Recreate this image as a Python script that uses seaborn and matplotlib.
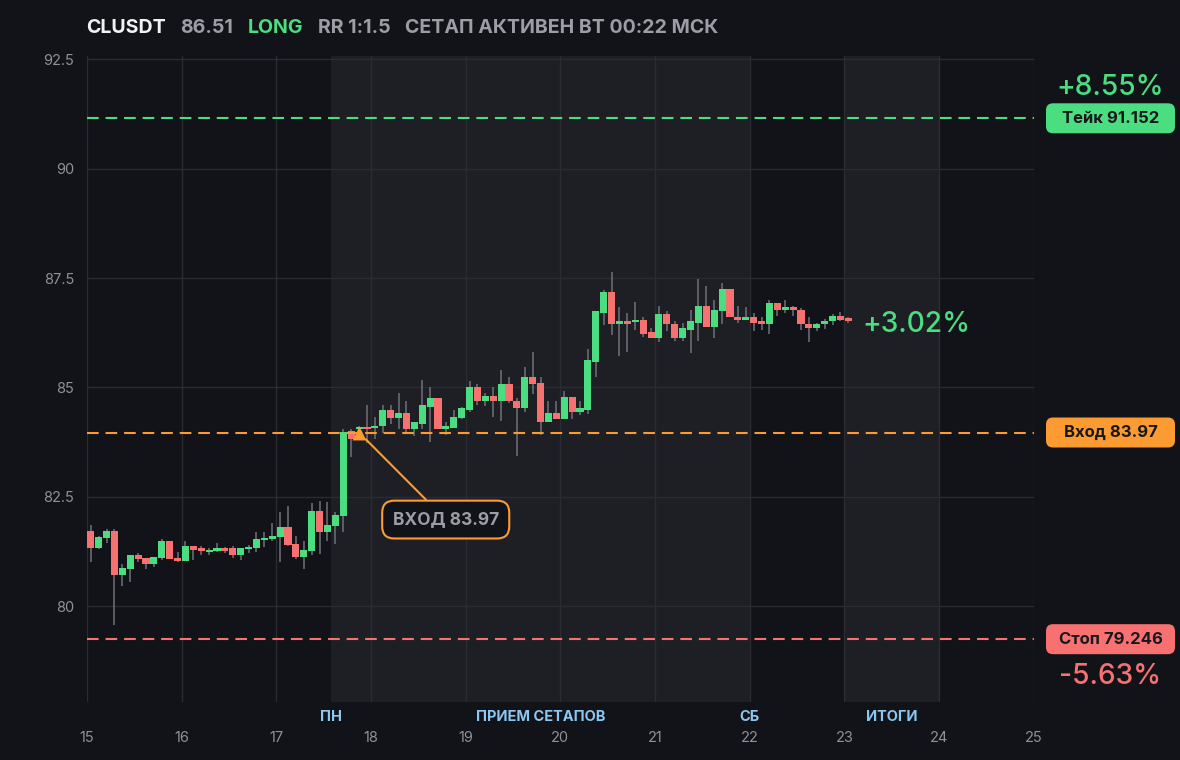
import numpy as np
import pandas as pd
import matplotlib
matplotlib.use("Agg")
import matplotlib.pyplot as plt
import seaborn as sns
from matplotlib.patches import FancyBboxPatch
from matplotlib.transforms import IdentityTransform

# ---------------- data ----------------
symbol = "CLUSDT"
side = "LONG"
status_text = "СЕТАП АКТИВЕН ВТ 00:22 МСК"
take_price = 91.152
entry_price = 83.97
stop_price = 79.246
first_day = 15
bar_hours = 2
entry_bar = 34

opens = [81.73, 81.32, 81.57, 81.73, 80.72, 80.86, 81.18, 81.11, 80.97, 81.11,
         81.48, 81.11, 81.04, 81.38, 81.32, 81.25, 81.27, 81.32, 81.32, 81.16,
         81.32, 81.34, 81.52, 81.54, 81.59, 81.82, 81.43, 81.13, 81.27, 82.18,
         81.70, 81.84, 82.07, 84.01, 84.06, 84.10, 84.08, 84.11, 84.49, 84.31,
         84.42, 84.04, 84.17, 84.56, 84.75, 84.04, 84.08, 84.31, 84.49, 85.00,
         84.68, 84.81, 84.70, 85.07, 84.70, 84.52, 85.23, 85.11, 84.20, 84.42,
         84.29, 84.79, 84.45, 84.49, 85.59, 86.71, 87.19, 86.44, 86.51, 86.49,
         86.55, 86.26, 86.12, 86.67, 86.46, 86.14, 86.32, 86.48, 86.87, 86.39,
         86.74, 87.24, 86.62, 86.55, 86.62, 86.51, 86.44, 86.94, 86.76, 86.83,
         86.78, 86.46, 86.37, 86.44, 86.51, 86.64, 86.58]
highs = [81.86, 81.61, 81.77, 81.77, 80.97, 81.18, 81.22, 81.11, 81.13, 81.54,
         81.48, 81.25, 81.48, 81.38, 81.38, 81.34, 81.45, 81.36, 81.38, 81.34,
         81.41, 81.70, 81.70, 81.91, 82.16, 82.30, 81.61, 81.50, 82.37, 82.41,
         82.39, 82.16, 84.06, 84.06, 84.13, 84.59, 84.33, 84.61, 84.61, 84.88,
         84.68, 84.22, 85.16, 85.00, 84.75, 84.22, 84.49, 84.55, 85.14, 85.07,
         84.88, 85.02, 85.39, 85.23, 84.77, 85.46, 85.82, 85.25, 84.68, 84.70,
         84.93, 84.79, 84.68, 85.87, 86.74, 87.22, 87.63, 86.83, 86.71, 86.96,
         86.60, 86.35, 86.87, 86.74, 86.53, 86.48, 86.76, 87.47, 87.31, 86.99,
         87.38, 87.24, 86.87, 86.83, 86.71, 86.60, 86.99, 86.94, 86.99, 86.87,
         86.81, 86.60, 86.48, 86.57, 86.69, 86.73, 86.62]
lows = [81.02, 81.30, 81.45, 79.58, 80.47, 80.56, 81.02, 80.86, 80.90, 81.06,
        81.09, 81.02, 81.04, 81.06, 81.18, 81.16, 81.25, 81.22, 81.11, 81.06,
        81.22, 81.25, 81.36, 81.50, 81.02, 81.38, 81.09, 80.86, 81.16, 81.20,
        81.50, 81.43, 81.70, 83.40, 83.79, 83.72, 83.83, 83.97, 84.17, 84.04,
        83.95, 83.88, 84.04, 83.76, 84.04, 83.92, 84.08, 84.29, 84.45, 84.59,
        84.57, 84.33, 84.24, 84.65, 83.44, 84.45, 84.86, 83.92, 84.20, 84.27,
        84.29, 84.27, 84.38, 84.40, 85.25, 86.42, 86.21, 85.71, 85.82, 86.32,
        86.16, 86.12, 86.03, 86.30, 86.07, 86.07, 85.78, 86.07, 86.39, 86.14,
        86.44, 86.60, 86.48, 86.55, 86.30, 86.32, 86.23, 86.64, 86.71, 86.64,
        86.32, 86.05, 86.30, 86.34, 86.42, 86.51, 86.48]
closes = [81.32, 81.59, 81.73, 80.72, 80.88, 81.18, 81.09, 80.97, 81.13, 81.48,
          81.09, 81.04, 81.38, 81.29, 81.27, 81.29, 81.32, 81.27, 81.16, 81.34,
          81.36, 81.54, 81.57, 81.61, 81.82, 81.41, 81.13, 81.29, 82.18, 81.70,
          81.86, 82.09, 83.98, 83.83, 84.10, 84.06, 84.13, 84.49, 84.31, 84.42,
          84.04, 84.20, 84.59, 84.75, 84.04, 84.11, 84.33, 84.52, 85.00, 84.68,
          84.81, 84.70, 85.07, 84.68, 84.52, 85.23, 85.09, 84.20, 84.42, 84.29,
          84.79, 84.45, 84.52, 85.62, 86.74, 87.19, 86.44, 86.51, 86.46, 86.55,
          86.23, 86.12, 86.67, 86.44, 86.14, 86.35, 86.51, 86.87, 86.39, 86.76,
          87.24, 86.60, 86.55, 86.62, 86.48, 86.44, 86.94, 86.76, 86.83, 86.76,
          86.44, 86.37, 86.46, 86.53, 86.64, 86.55, 86.51]

x_ticks = list(range(15, 26))
y_ticks = [80, 82.5, 85, 87.5, 90, 92.5]
session_spans = [(17.575, 22.0), (23.0, 24.0)]
session_labels = ["ПН", "ПРИЕМ СЕТАПОВ", "СБ", "ИТОГИ"]
session_label_x = [17.575, 19.79, 22.0, 23.5]
note_pos = (18.79, 81.98)

# ---------------- style ----------------
BG = "#121318"
SHADE = "#1e1f24"
GRID = "#2a2c32"
GREEN = "#4ade80"
RED = "#f87171"
ORANGE = "#fb9b32"
WICK = "#6f727a"
TICK = "#8e9199"
GRAY_T = "#9b9ea6"
BLUE_T = "#8cc6f3"

sns.set_theme(style="dark", rc={
    "figure.facecolor": BG, "axes.facecolor": BG, "savefig.facecolor": BG,
    "axes.edgecolor": BG, "grid.color": GRID, "axes.grid": True,
    "axes.axisbelow": True,
})
plt.rcParams["font.family"] = ["Inter", "DejaVu Sans"]

df = pd.DataFrame({"open": opens, "high": highs, "low": lows, "close": closes})
n = len(df)
df["t"] = first_day + (np.arange(n) * bar_hours + bar_hours / 2) / 24.0
df["up"] = df["close"] >= df["open"]
body = (df["close"] - df["open"]).abs()
mid = (df["close"] + df["open"]) / 2
h = np.maximum(body, 0.045)
df["bottom"] = mid - h / 2
df["height"] = h

W, H = 1180, 760
fig = plt.figure(figsize=(W / 100, H / 100), dpi=100)
ax = fig.add_axes([86.8 / W, 1 - 702 / H, (1033.8 - 86.8) / W, (702 - 56) / H])
ax.set_xlim(15, 25)
ax.set_ylim(77.81, 92.576)

for a, b in session_spans:
    ax.axvspan(a, b, color=SHADE, lw=0, zorder=0)

ax.set_xticks(x_ticks)
ax.set_yticks(y_ticks)
ax.set_yticklabels([f"{v:g}" for v in y_ticks])
ax.grid(True, color=GRID, lw=1.0)
for s in ax.spines.values():
    s.set_visible(False)
ax.tick_params(axis="x", length=0, pad=21, labelsize=10.5, colors=TICK)
ax.tick_params(axis="y", length=0, pad=9, labelsize=10.5, colors=TICK)

# candles
bar_w = 0.075
ax.vlines(df["t"], df["low"], df["high"], color=WICK, lw=1.1, zorder=2)
ax.bar(df["t"], df["height"], bottom=df["bottom"], width=bar_w,
       color=np.where(df["up"], GREEN, RED), linewidth=0, zorder=3)

# levels
dash = (0, (5.6, 3.3))
ax.axhline(take_price, color=GREEN, lw=1.5, ls=dash, zorder=4)
ax.axhline(entry_price, color=ORANGE, lw=1.5, ls=dash, zorder=4)
ax.axhline(stop_price, color=RED, lw=1.5, ls=dash, zorder=4)

# entry marker + note
sns.scatterplot(x=[df["t"][entry_bar]], y=[entry_price], marker="^", s=100,
                color=ORANGE, edgecolor=ORANGE, linewidth=0, zorder=6, ax=ax,
                legend=False)
ax.annotate(f"ВХОД {entry_price:.2f}", xy=(df["t"][entry_bar], entry_price),
            xytext=note_pos, ha="center", va="center", fontsize=12.5,
            fontweight="bold", color=GRAY_T, zorder=7,
            bbox=dict(boxstyle="round,pad=0.6,rounding_size=0.7", fc=BG,
                      ec=ORANGE, lw=1.5),
            arrowprops=dict(arrowstyle="-", color=ORANGE, lw=1.5,
                            shrinkA=0, shrinkB=7))

# session labels
for lab, xv in zip(session_labels, session_label_x):
    ax.annotate(lab, xy=(xv, 0), xycoords=("data", "axes fraction"),
                xytext=(0, -15), textcoords="offset pixels", ha="center",
                va="center", fontsize=10.5, fontweight="bold", color=BLUE_T,
                annotation_clip=False)

# current pnl label
last_close = closes[-1]
pnl = (last_close / entry_price - 1) * 100
ax.annotate(f"{pnl:+.2f}%", xy=(df["t"].iloc[-1], last_close),
            xytext=(14, -3), textcoords="offset pixels", ha="left", va="center",
            fontsize=20.2, fontweight="medium", color=GREEN,
            annotation_clip=False)

# right tags
fig.canvas.draw()
tag_x0, tag_w, tag_h = 1046, 129, 30
def tag(price, text, color):
    y = ax.transData.transform((25, price))[1]
    p = FancyBboxPatch((tag_x0, y - tag_h / 2), tag_w, tag_h,
                       boxstyle="round,pad=0,rounding_size=7", fc=color,
                       ec="none", transform=IdentityTransform())
    fig.add_artist(p)
    fig.text(tag_x0 + tag_w / 2, y, text, transform=IdentityTransform(),
             ha="center", va="center", fontsize=12, fontweight="bold",
             color="#16181d")
    return y

y_take = tag(take_price, f"Тейк {take_price:.3f}", GREEN)
tag(entry_price, f"Вход {entry_price:.2f}", ORANGE)
y_stop = tag(stop_price, f"Стоп {stop_price:.3f}", RED)
take_pct = (take_price / entry_price - 1) * 100
stop_pct = (stop_price / entry_price - 1) * 100
fig.text(tag_x0 + tag_w / 2, y_take + 31, f"{take_pct:+.2f}%",
         transform=IdentityTransform(), ha="center", va="center",
         fontsize=20.2, fontweight="medium", color=GREEN)
fig.text(tag_x0 + tag_w / 2, y_stop - 37, f"{stop_pct:.2f}%",
         transform=IdentityTransform(), ha="center", va="center",
         fontsize=20.2, fontweight="medium", color=RED)

# title
rr = (take_price - entry_price) / (entry_price - stop_price)
parts = [(symbol, "#f1f2f4"), (f"{last_close:.2f}", GRAY_T), (side, GREEN),
         (f"RR 1:{rr:.1f}", GRAY_T), (status_text, GRAY_T)]
renderer = fig.canvas.get_renderer()
x = 86
for s, col in parts:
    t = fig.text(x, H - 28, s, transform=IdentityTransform(), ha="left",
                 va="center", fontsize=14.1, fontweight="bold", color=col)
    bb = t.get_window_extent(renderer)
    x = bb.x1 + 14.5

fig.savefig("out.png", dpi=100, facecolor=BG)
